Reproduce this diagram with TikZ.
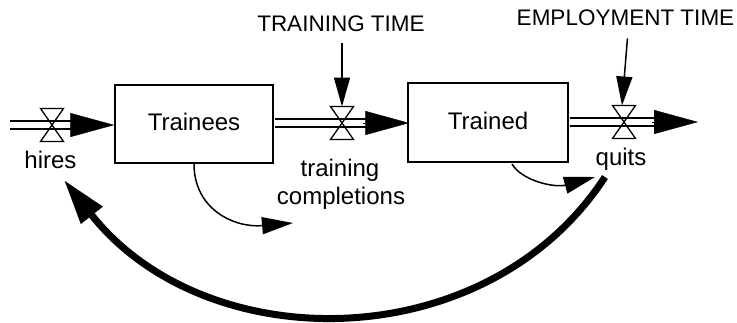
\documentclass[tikz,border=0pt]{standalone}
\usepackage{fontspec}
\setmainfont{Liberation Sans}
\usetikzlibrary{arrows.meta}
\begin{document}
\begin{tikzpicture}[x=1pt,y=-1pt,
  stock/.style={draw, line width=1.5pt, inner sep=0pt, text height=17pt, text depth=4pt,
    font=\fontsize{24}{28}\selectfont},
  lbl/.style={font=\fontsize{24}{28}\selectfont, inner sep=0pt, anchor=base},
  caps/.style={font=\fontsize{22.5}{26}\selectfont, inner sep=0pt, anchor=base},
  pipe/.style={double, double distance=6pt, line width=2pt},
  flowhead/.style={-{Triangle[length=44pt,width=24pt]}, line width=0.4pt},
  info/.style={-{Triangle[length=29pt,width=16pt]}, line width=1.5pt},
  link/.style={-{Triangle[length=31pt,width=17pt]}, line width=1.5pt},
  thicklink/.style={-{Triangle[length=45pt,width=26pt]}, line width=7pt},
  valve/.pic={\draw[line width=1.3pt] (-11.5,-16.5) -- (11.5,-16.5) -- (0,0) -- cycle;
              \draw[line width=1.3pt] (-11.5,16.5) -- (11.5,16.5) -- (0,0) -- cycle;}
]
\useasboundingbox (0,0) rectangle (737,322);

% stocks
\node[stock, minimum width=158pt, minimum height=78pt] (trainees) at (194,124) {Trainees};
\node[stock, minimum width=160pt, minimum height=79pt] (trained) at (488,122.5) {Trained};

% valves and flow ends
\coordinate (src) at (10,125);
\coordinate (v1) at (52,125);
\coordinate (v2) at (342,123);
\coordinate (v3) at (624,122);
\coordinate (sink) at (698,122);

% flows
\draw[pipe] (src) -- ([xshift=-40pt]trainees.west |- v1);
\draw[flowhead] ([xshift=-44pt]trainees.west |- v1) -- (trainees.west |- v1);
\draw[pipe] ([xshift=1pt]trainees.east |- v2) -- ([xshift=-40pt]trained.west |- v2);
\draw[flowhead] ([xshift=-44pt]trained.west |- v2) -- ([xshift=2pt]trained.west |- v2);
\draw[pipe] ([xshift=1pt]trained.east |- v3) -- ([xshift=-42pt]sink);
\draw[flowhead] ([xshift=-46pt]sink) -- (sink);

\pic at (v1) {valve};
\pic at (v2) {valve};
\pic at (v3) {valve};

% labels
\node[lbl] (hires) at (50.5,168) {hires};
\node[lbl] (tc1) at (340,176) {training};
\node[lbl] (tc2) at (341,204) {completions};
\node[lbl] (quits) at (621,165) {quits};
\node[caps] (tt) at (341,31) {TRAINING TIME};
\node[caps] (et) at (625.5,25) {EMPLOYMENT TIME};

% information arrows
\draw[info, shorten <=12pt] (v2 |- tt.south) -- ([yshift=16.5pt]v2);
\draw[info, shorten <=13pt] ([xshift=3pt]et.south) -- ([xshift=-2pt,yshift=16.5pt]v3);

% connectors
\coordinate (c1end) at (293,223);
\coordinate (c2start) at (512,164);
\coordinate (c2end) at (595,177);
\coordinate (c3start) at (605,177);
\coordinate (c3end) at (64,180);
\draw[link] (trainees.south) .. controls (194,210) and (235,228) .. (c1end);
\draw[link] (c2start) .. controls (522,181) and (555,188) .. (c2end);
\draw[thicklink] (c3start) .. controls (487,358) and (206,360) .. (c3end);
\end{tikzpicture}
\end{document}
